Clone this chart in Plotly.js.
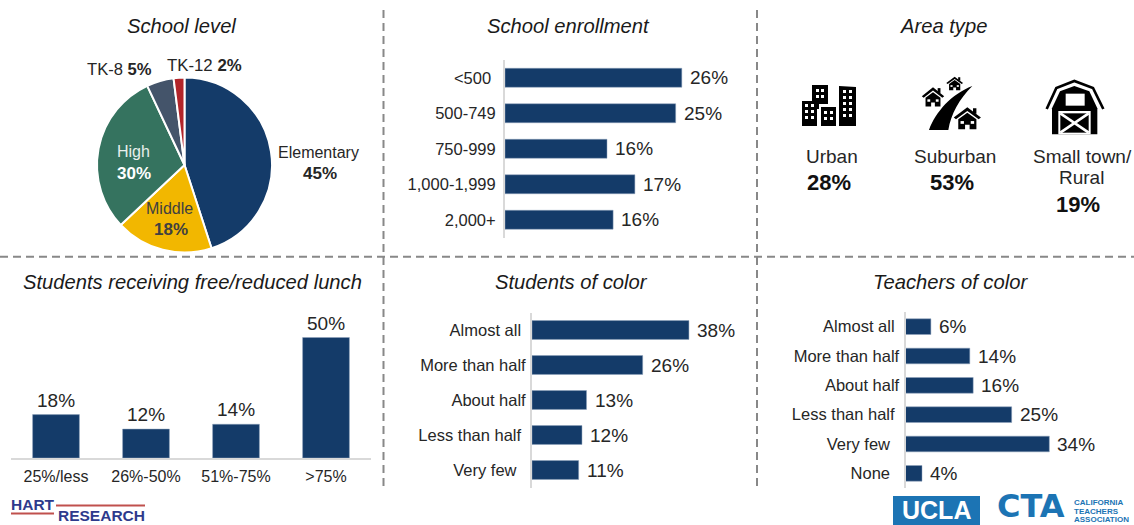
<!DOCTYPE html>
<html>
<head>
<meta charset="utf-8">
<script src="https://cdn.plot.ly/plotly-3.0.1.min.js"></script>
<style>html,body{margin:0;padding:0;background:#fff;overflow:hidden}#chart{width:1134px;height:525px}</style>
</head>
<body>
<div id="chart"></div>
<script>
// ---- data ----
const levelLabels = ['Elementary','Middle','High','TK-8','TK-12'];
const levelValues = [45,18,30,5,2];
const levelColors = ['#143b69','#f2b700','#35735f','#44546a','#b2252a'];

const enrollCats = ['<500\u00a0','500-749','750-999','1,000-1,999','2,000+'];
const enrollBars = [26,25.1,15,19.1,15.9];       // bar lengths as drawn
const enrollLabels = ['26%','25%','16%','17%','16%']; // values as printed

const lunchCats = ['25%/less','26%-50%','51%-75%','>75%'];
const lunchValues = [18,12,14,50];
const lunchLabels = ['18%','12%','14%','50%'];

const studentCats = ['Almost all\u00a0','More than half','About half','Less than half\u00a0','Very few\u00a0\u00a0'];
const studentBars = [38,26.8,13.2,12.1,11.3];
const studentLabels = ['38%','26%','13%','12%','11%'];

const teacherCats = ['Almost all\u00a0','More than half','About half','Less than half\u00a0','Very few\u00a0\u00a0','None\u00a0\u00a0'];
const teacherBars = [6,15.2,16,25.1,34,3.9];
const teacherLabels = ['6%','14%','16%','25%','34%','4%'];

const areaNames = ['Urban','Suburban','Small town/','Rural'];
const areaShares = ['28%','53%','19%'];

// ---- helpers ----
const W = 1134, H = 525, NAVY = '#143b69', FONT = '"Liberation Sans", Arial, sans-serif';
const LOGO_BLUE = '#1c74b4';
const px = x => x / W, py = y => 1 - y / H;
const annotations = [], shapes = [], images = [], traces = [], axes = {};
function note(text, x, y, size, opts = {}) {
  annotations.push(Object.assign({text, x: px(x), y: py(y), xref: 'paper', yref: 'paper',
    xanchor: 'center', yanchor: 'middle', showarrow: false,
    font: {family: opts.family || FONT, size, color: opts.color || '#262626'}}, opts.extra || {}));
}
function rect(x0, y0, x1, y1, fill) {
  shapes.push({type: 'rect', xref: 'paper', yref: 'paper', x0: px(x0), x1: px(x1), y0: py(y0), y1: py(y1),
    fillcolor: fill, line: {width: 0}, layer: 'below'});
}
function dash(x0, y0, x1, y1) {
  shapes.push({type: 'line', xref: 'paper', yref: 'paper', x0: px(x0), x1: px(x1), y0: py(y0), y1: py(y1),
    line: {color: '#888888', width: 2, dash: '8px,5px'}});
}
function hbar(n, cats, bars, labels, left, right, top, bottom, pxPerUnit, barFrac, standoff) {
  const xa = 'xaxis' + n, ya = 'yaxis' + n, xr = 'x' + n, yr = 'y' + n;
  traces.push({type: 'bar', orientation: 'h', x: bars, y: cats, xaxis: xr, yaxis: yr, width: barFrac,
    marker: {color: NAVY, line: {color: '#8ea3bd', width: 0.5}}, hoverinfo: 'skip'});
  axes[xa] = {domain: [px(left), px(right)], range: [0, (right - left) / pxPerUnit], visible: false,
    fixedrange: true, anchor: yr};
  axes[ya] = {domain: [py(bottom), py(top)], type: 'category', autorange: 'reversed', anchor: xr,
    showline: true, linecolor: '#d9d9d9', linewidth: 2, ticks: '', showgrid: false, zeroline: false,
    tickfont: {family: FONT, size: 16.5, color: '#262626'}, ticklabelstandoff: standoff, fixedrange: true};
  bars.forEach((v, i) => annotations.push({text: labels[i], x: v, y: cats[i], xref: xr, yref: yr,
    xanchor: 'left', yanchor: 'middle', xshift: 6, showarrow: false,
    font: {family: FONT, size: 19, color: '#262626'}}));
}
function svgUri(body, vb) {
  return 'data:image/svg+xml;utf8,' + encodeURIComponent(
    `<svg xmlns="http://www.w3.org/2000/svg" viewBox="${vb}">${body}</svg>`);
}
function icon(body, vb, x0, y0, x1, y1) {
  images.push({source: svgUri(body, vb), xref: 'paper', yref: 'paper', x: px(x0), y: py(y0),
    sizex: (x1 - x0) / W, sizey: (y1 - y0) / H, sizing: 'stretch', xanchor: 'left', yanchor: 'top', layer: 'above'});
}

// ---- pie ----
traces.push({type: 'pie', labels: levelLabels, values: levelValues, sort: false, direction: 'clockwise', rotation: 0,
  marker: {colors: levelColors, line: {color: '#fff', width: 2}}, textinfo: 'none', hoverinfo: 'skip', showlegend: false,
  domain: {x: [px(97), px(272)], y: [py(252.5), py(77.5)]}});

// ---- bar panels ----
hbar('', enrollCats, enrollBars, enrollLabels, 505, 745, 60, 237.5, 6.8, 0.535, 4);
hbar('2', studentCats, studentBars, studentLabels, 532, 752, 312.5, 487.5, 4.13, 0.54, 1);
hbar('3', teacherCats, teacherBars, teacherLabels, 905.5, 1130, 312, 488, 4.23, 0.535, 1);

// lunch: vertical
traces.push({type: 'bar', x: lunchCats, y: lunchValues, xaxis: 'x4', yaxis: 'y4', width: 0.52,
  marker: {color: NAVY, line: {color: '#8ea3bd', width: 0.5}}, hoverinfo: 'skip'});
axes.xaxis4 = {domain: [px(11), px(371)], type: 'category', anchor: 'y4', showline: true, linecolor: '#d9d9d9', linewidth: 2,
  ticks: '', tickfont: {family: FONT, size: 16, color: '#262626'}, fixedrange: true, ticklabelstandoff: 3};
axes.yaxis4 = {domain: [py(458), py(310)], range: [0, 148 / 2.41], visible: false, anchor: 'x4', fixedrange: true};
lunchValues.forEach((v, i) => annotations.push({text: lunchLabels[i], x: lunchCats[i], y: v, xref: 'x4', yref: 'y4',
  xanchor: 'center', yanchor: 'bottom', yshift: 2, showarrow: false, font: {family: FONT, size: 19, color: '#262626'}}));

// ---- panel titles ----
[['School level',181,26],['School enrollment',568,26],['Area type',943,26],
 ['Students receiving free/reduced lunch',192,282],['Students of color',571,282],['Teachers of color',950,282]]
 .forEach(t => note('<i>' + t[0] + '</i>', t[1], t[2], 20.2, {color: '#1a1a1a'}));

// ---- pie labels ----
note(levelLabels[0], 318, 152, 16);
note('<b>45%</b>', 320, 173, 17);
note(levelLabels[2], 133, 151, 16, {color: '#e8efec'});
note('<b>30%</b>', 134, 173, 17, {color: '#ffffff'});
note(levelLabels[1], 169, 208, 16, {color: '#404040'});
note('<b>18%</b>', 171, 229, 17, {color: '#404040'});
note(levelLabels[3] + ' <b>5%</b>', 119, 69, 16.6);
note(levelLabels[4] + ' <b>2%</b>', 204, 66, 16.8);

// ---- area type ----
note(areaNames[0], 832, 156, 19);
note('<b>' + areaShares[0] + '</b>', 829, 182, 22, {color: '#111'});
note(areaNames[1], 955, 156, 19);
note('<b>' + areaShares[1] + '</b>', 952, 182, 22, {color: '#111'});
note(areaNames[2], 1082, 156, 19);
note(areaNames[3], 1081, 177, 19);
note('<b>' + areaShares[2] + '</b>', 1078, 205, 22, {color: '#111'});

const win = (x, y, w = 3, h = 3) => `<rect x="${x}" y="${y}" width="${w}" height="${h}" fill="#fff"/>`;
let city = '<path d="M0 17h15v25H0zM10 1h16v19H17v5h-2v-8H10zM19 23h15v19H19zM37 2l17 1v39H37z" fill="#000"/>';
[[3,20],[9,20],[3,26],[9,26],[3,32],[9,32],[14,5],[19,5],[14,11],[19,11],[22,27],[28,27],[22,33],[28,33],
 [41,6],[47,6],[41,12],[47,12],[41,18],[47,18],[41,24],[47,24],[41,30],[47,30]].forEach(p => city += win(p[0], p[1]));
icon(city, '0 0 54 42', 802, 84, 856, 126);

// suburban icon, drawn in the reference crop's 210x195 space
const house = (cx, top, sx, sy) => `<g transform="translate(${cx - 12 * sx} ${top}) scale(${sx} ${sy})">` +
  '<path d="M0 11L12 0l12 11-2 2L12 4 2 13z" fill="#000"/><rect x="17" y="1" width="3" height="6" fill="#000"/>' +
  '<path d="M4 13l8-7 8 7v11h-6v-5h-4v5H4z" fill="#000"/>' +
  '<rect x="6" y="15" width="3" height="3" fill="#fff"/><rect x="15" y="15" width="3" height="3" fill="#fff"/></g>';
icon('<path d="M42 180C62 125 110 72 172 48C132 88 108 132 100 180z" fill="#000"/>' +
  house(54, 52, 2.8, 2.4) + house(119, 20, 2.1, 1.7) + house(157, 112, 3.4, 2.75),
  '0 0 210 195', 915, 70, 985, 135);

// barn icon, drawn in the reference crop's 210x180 space
icon('<path d="M20 102L49 39L103 18L159 39L190 102" fill="none" stroke="#000" stroke-width="8"/>' +
  '<path d="M103 33L60 49L36 100V178H172V100L148 49z" fill="#000"/>' +
  '<rect x="77" y="56" width="57" height="36" fill="#fff"/><rect x="83" y="62" width="45" height="24" fill="#fff"/>' +
  '<rect x="55" y="108" width="97" height="70" fill="#fff"/>' +
  '<rect x="61" y="115" width="85" height="58" fill="#000"/>' +
  '<path d="M61 115L146 173M146 115L61 173" stroke="#fff" stroke-width="8"/>',
  '0 0 210 180', 1040, 75, 1110, 135);

// ---- dividers ----
dash(383.5, 10, 383.5, 490);
dash(757, 10, 757, 490);
dash(0, 256.7, 1134, 256.7);

// ---- logos ----
note('<b>HART</b>', 33, 504, 15.5, {color: '#2e3a8c'});
rect(11, 512.5, 54, 514.5, '#c0504d');
rect(56, 504.5, 145, 506.5, '#c0504d');
note('<b>RESEARCH</b>', 101, 515, 15.5, {color: '#2e3a8c'});
rect(893, 496, 980, 525, LOGO_BLUE);
note('<b>UCLA</b>', 936, 510, 25, {color: '#ffffff'});
note('<b>CTA</b>', 1031, 506, 32, {color: LOGO_BLUE, family: '"DejaVu Sans", sans-serif'});
note('<b>CALIFORNIA</b>', 1072, 502, 8, {color: LOGO_BLUE, extra: {xanchor: 'left'}});
note('<b>TEACHERS</b>', 1072, 511.5, 8, {color: LOGO_BLUE, extra: {xanchor: 'left'}});
note('<b>ASSOCIATION</b>', 1072, 519.5, 8, {color: LOGO_BLUE, extra: {xanchor: 'left'}});

Plotly.newPlot('chart', traces, Object.assign({
  width: W, height: H, margin: {l: 0, r: 0, t: 0, b: 0}, autosize: false, showlegend: false,
  paper_bgcolor: '#fff', plot_bgcolor: 'rgba(0,0,0,0)', bargap: 0.46,
  font: {family: FONT}, annotations, shapes, images
}, axes), {displayModeBar: false, staticPlot: true});
</script>
</body>
</html>
